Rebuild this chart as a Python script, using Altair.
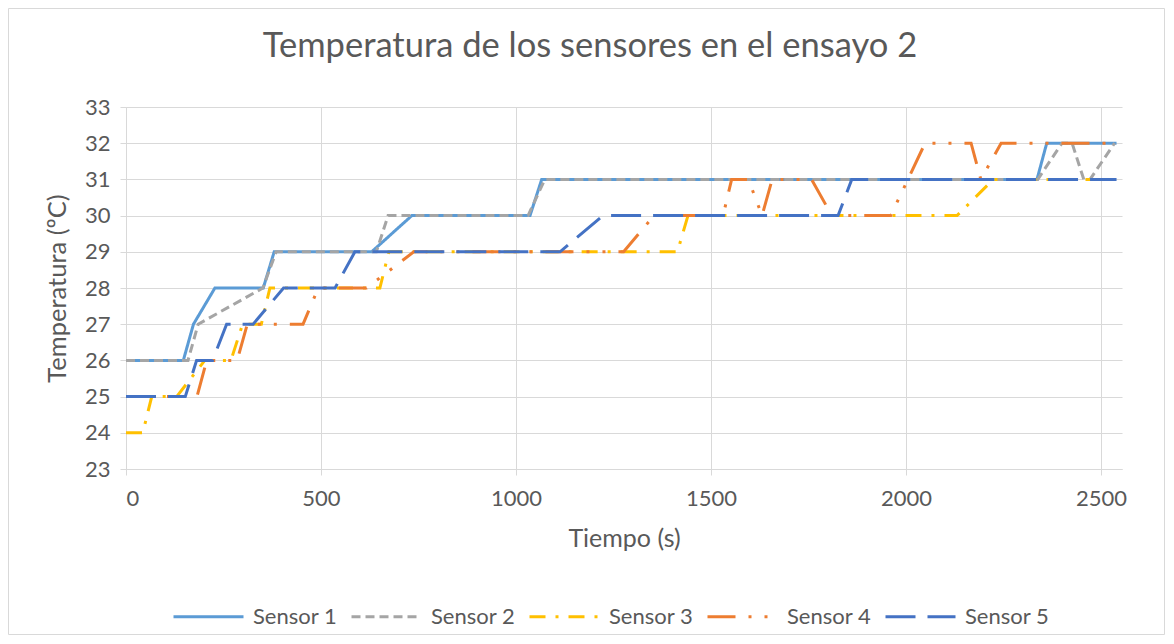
import altair as alt
import pandas as pd

title_text = ["Temperatura de los sensores en el ensayo 2"]
sensors = ["Sensor 1", "Sensor 2", "Sensor 3", "Sensor 4", "Sensor 5"]
colors = ["#5B9BD5", "#A5A5A5", "#FFC000", "#ED7D31", "#4472C4"]
dashes = [[1, 0], [9, 5], [16, 10, 3, 10], [28, 13, 3, 13, 3, 13], [30, 12]]

s1_t = [0, 147, 173, 228, 352, 380, 630, 733, 1036, 1066, 2336, 2361, 2540]
s1_v = [26, 26, 27, 28, 28, 29, 29, 30, 30, 31, 31, 32, 32]

s2_t = [0, 159, 185, 351, 385, 642, 672, 1031, 1074, 2338, 2400, 2426, 2456, 2472, 2535]
s2_v = [26, 26, 27, 28, 29, 29, 30, 30, 31, 31, 32, 32, 31, 31, 32]

s3_t = [0, 43, 66, 130, 202, 269, 299, 347, 369, 651, 674, 1414, 1441, 2131, 2224, 2540]
s3_v = [24, 24, 25, 25, 26, 26, 27, 27, 28, 28, 29, 29, 30, 30, 31, 31]

s4_t = [0, 182, 207, 285, 311, 454, 493, 617, 738, 1276, 1354, 1531, 1553, 1596, 1631,
        1657, 1758, 1810, 1961, 2049, 2167, 2192, 2244, 2540]
s4_v = [25, 25, 26, 26, 27, 27, 28, 28, 29, 29, 30, 30, 31, 31, 30,
        31, 31, 30, 30, 32, 32, 31, 32, 32]

s5_t = [0, 152, 181, 222, 258, 326, 404, 536, 587, 1113, 1223, 1826, 1861, 2540]
s5_v = [25, 25, 26, 26, 27, 27, 28, 28, 29, 29, 30, 30, 31, 31]

x_ticks = [0, 500, 1000, 1500, 2000, 2500]
y_ticks = [23, 24, 25, 26, 27, 28, 29, 30, 31, 32, 33]

rows = []
for name, ts, vs in zip(sensors, [s1_t, s2_t, s3_t, s4_t, s5_t], [s1_v, s2_v, s3_v, s4_v, s5_v]):
    for i, (t, v) in enumerate(zip(ts, vs)):
        rows.append({"sensor": name, "t": t, "temp": v, "i": i})
df = pd.DataFrame(rows)

FONT = "Lato"
TXT = "#595959"
GRID = "#D9D9D9"

legend = alt.Legend(
    title=None, orient="none", legendX=46, legendY=473, direction="horizontal",
    columns=5, symbolType="stroke", symbolSize=4900, symbolStrokeWidth=3,
    labelFont=FONT, labelFontSize=22, labelColor=TXT, labelOffset=8,
    columnPadding=7, padding=0,
)

lines = alt.Chart(df).mark_line(strokeWidth=3).encode(
    x=alt.X("t:Q", scale=alt.Scale(domain=[0, 2554], nice=False, zero=False),
            axis=alt.Axis(values=x_ticks, title="Tiempo (s)", format="d")),
    y=alt.Y("temp:Q", scale=alt.Scale(domain=[23, 33], nice=False, zero=False),
            axis=alt.Axis(values=y_ticks, title="Temperatura (ºC)", format="d",
                          titleFontSize=25.5)),
    color=alt.Color("sensor:N", scale=alt.Scale(domain=sensors, range=colors), legend=legend),
    strokeDash=alt.StrokeDash("sensor:N", scale=alt.Scale(domain=sensors, range=dashes), legend=legend),
    order="i:Q",
    detail="sensor:N",
)

frame = alt.Chart(pd.DataFrame({"k": [0]})).mark_rect(
    fillOpacity=0, stroke=GRID, strokeWidth=1
).encode(
    x=alt.value(-117.5), x2=alt.value(1038.5), y=alt.value(-98.5), y2=alt.value(527.5)
)

title = alt.Chart(pd.DataFrame({"title": title_text})).mark_text(
    font=FONT, fontSize=34.5, color=TXT, align="center", baseline="alphabetic"
).encode(text="title:N", x=alt.value(464), y=alt.value(-50))

chart = alt.layer(lines, frame, title).properties(
    width=996, height=362,
    autosize=alt.AutoSizeParams(type="none"),
    padding={"left": 118, "top": 99, "right": 44, "bottom": 167},
).configure_view(stroke="transparent").configure_axis(
    labelFont=FONT, labelFontSize=22, labelColor=TXT,
    titleFont=FONT, titleFontSize=25, titleColor=TXT, titleFontWeight="normal",
    gridColor=GRID, gridWidth=1, domainColor=GRID, domainWidth=1,
    tickColor=GRID, tickSize=6, tickWidth=1,
).configure_axisX(
    labelPadding=13, titlePadding=17,
).configure_axisY(
    labelPadding=10, titlePadding=14,
)

chart.save("out.html", embed_options={"renderer": "svg", "actions": False})
